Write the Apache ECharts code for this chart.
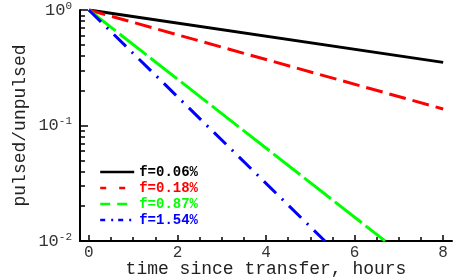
<!DOCTYPE html>
<html><head><meta charset="utf-8">
<script src="https://cdn.jsdelivr.net/npm/echarts@6/dist/echarts.min.js"></script>
<style>html,body{margin:0;padding:0;background:#fff}#c{width:463px;height:278px}</style>
</head><body><div id="c"></div>
<script>
const seriesNames = ['f=0.06%', 'f=0.18%', 'f=0.87%', 'f=1.54%'];
const seriesColors = ['#000000', '#ff0000', '#00ff00', '#0000ff'];
// [time (hours), pulsed/unpulsed]
const black = [[0, 1], [8, 0.352]];
const red = [[0, 1], [8, 0.139]];
const green = [[0, 1], [6.69, 0.01]];
const blue = [[0, 1], [5.33, 0.01]];
const xMinorTicks = [0.5,1,1.5,2.5,3,3.5,4.5,5,5.5,6.5,7,7.5];
const xLabelValues = [0, 2, 4, 6, 8];
const yMinorTicks = [0.02,0.03,0.04,0.05,0.06,0.07,0.08,0.09,0.2,0.3,0.4,0.5,0.6,0.7,0.8,0.9];
const yLabelValues = [0.01, 0.1, 1];

const dashes = ['solid', [17, 7], [34, 5], [17, 8, 2, 8]];
const legendDashes = ['solid', [6, 13], [10, 7], [5, 6, 2, 5]];
const datas = [black, red, green, blue];
const mono = 'Liberation Mono';

const W = 463, H = 278, GL = 80, GR = 11, GT = 10, GB = 37;

const xBase = {type: 'value', min: -0.2, max: 8.2, splitLine: {show: false}};
const yBase = {type: 'log', logBase: 10, min: 0.01, max: 1, splitLine: {show: false}};
const tickLine = {color: '#000', width: 1.5};

// helper grids: 1 sits just below the plot (its top edge on the x axis line),
// 2 sits just left of the plot (its right edge on the y axis line);
// their outward ticks therefore point into the plot.
function xTickAxis(vals, len) {
  return Object.assign({}, xBase, {
    gridIndex: 1, position: 'top',
    axisLine: {show: false, onZero: false}, axisLabel: {show: false},
    axisTick: {show: true, length: len, customValues: vals, lineStyle: tickLine}
  });
}
function yTickAxis(vals, len) {
  return Object.assign({}, yBase, {
    gridIndex: 2, position: 'right',
    axisLine: {show: false, onZero: false}, axisLabel: {show: false},
    axisTick: {show: true, length: len, customValues: vals, lineStyle: tickLine}
  });
}

const chart = echarts.init(document.getElementById('c'), null, {renderer: 'canvas'});
chart.setOption({
  animation: false,
  backgroundColor: '#fff',
  grid: [
    {left: GL, right: GR, top: GT, bottom: GB, outerBoundsMode: 'none'},
    {left: GL, right: GR, top: H - GB, height: 10, outerBoundsMode: 'none'},
    {left: 0, width: GL, top: GT, bottom: GB, outerBoundsMode: 'none'}
  ],
  legend: {
    orient: 'vertical', left: 94, top: 160, itemGap: 2,
    itemWidth: 34, itemHeight: 13,
    itemStyle: {opacity: 0},
    textStyle: {fontFamily: mono, fontWeight: 'bold', fontSize: 14, lineHeight: 13},
    data: seriesNames.map((n, i) => ({
      name: n,
      textStyle: {color: seriesColors[i]},
      lineStyle: {color: seriesColors[i], width: 2.4, type: legendDashes[i], cap: 'butt'}
    }))
  },
  xAxis: [
    Object.assign({}, xBase, {
      gridIndex: 0,
      name: 'time since transfer, hours', nameLocation: 'middle', nameGap: 19, nameMoveOverlap: false,
      nameTextStyle: {fontFamily: mono, fontSize: 18, color: '#222'},
      axisLine: {show: true, onZero: false, lineStyle: {color: '#000', width: 2}},
      axisTick: {show: false},
      axisLabel: {customValues: xLabelValues, fontFamily: mono, fontSize: 16, color: '#333', margin: 4}
    }),
    xTickAxis(xLabelValues, 6),
    xTickAxis(xMinorTicks, 4),
    Object.assign({}, xBase, {gridIndex: 2, show: false, axisLine: {onZero: false}})
  ],
  yAxis: [
    Object.assign({}, yBase, {
      gridIndex: 0,
      name: 'pulsed/unpulsed', nameLocation: 'middle', nameGap: 51, nameMoveOverlap: false,
      nameTextStyle: {fontFamily: mono, fontSize: 18, color: '#222'},
      axisLine: {show: true, onZero: false, lineStyle: {color: '#000', width: 2}},
      axisTick: {show: false},
      axisLabel: {
        customValues: yLabelValues, margin: 8,
        formatter: v => '{b|10}{s|' + Math.round(Math.log10(v)) + '}',
        rich: {
          b: {fontFamily: mono, fontSize: 17, color: '#333'},
          s: {fontFamily: mono, fontSize: 11, color: '#333', verticalAlign: 'top', padding: [0,0,8,0]}
        }
      }
    }),
    yTickAxis(yLabelValues, 8),
    yTickAxis(yMinorTicks, 5),
    Object.assign({}, yBase, {gridIndex: 1, show: false, axisLine: {onZero: false}})
  ],
  series: datas.map((d, i) => ({
    name: seriesNames[i], type: 'line', data: d, symbol: 'none',
    xAxisIndex: 0, yAxisIndex: 0,
    lineStyle: {color: seriesColors[i], width: 3, type: dashes[i], cap: 'butt'},
    itemStyle: {color: seriesColors[i]}
  }))
});
</script></body></html>
